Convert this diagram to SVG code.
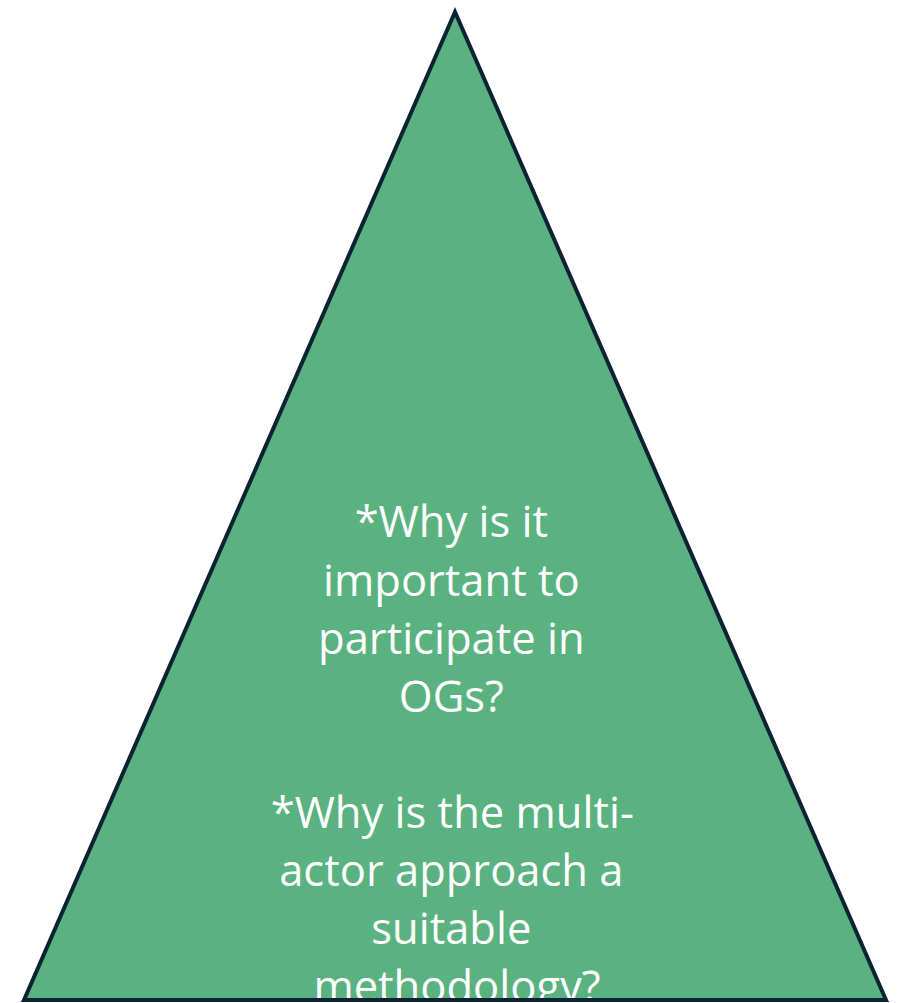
<svg xmlns="http://www.w3.org/2000/svg" width="897" height="1003" viewBox="0 0 897 1003">
<style>
.fill{fill:#5ab281;stroke:none}
.edge{fill:none;stroke:#0d2233;stroke-width:4;stroke-linejoin:miter}
.t{font-family:"Open Sans","Liberation Sans",sans-serif;font-size:43.5px;fill:#ffffff;text-anchor:middle}
</style>
<g id="pyramid">
<polygon class="fill" points="455,12 24,1000 886,1000"/>
<text class="t">
<tspan x="457" y="537">*Why is it</tspan>
<tspan x="457" y="596">important to</tspan>
<tspan x="457" y="654">participate in</tspan>
<tspan x="457" y="712">OGs?</tspan>
<tspan x="458" y="828">*Why is the multi-</tspan>
<tspan x="457" y="886">actor approach a</tspan>
<tspan x="457" y="944">suitable</tspan>
<tspan x="457" y="1002">methodology?</tspan>
</text>
<polygon class="edge" points="455,12 24,1000 886,1000"/>
</g>
</svg>
